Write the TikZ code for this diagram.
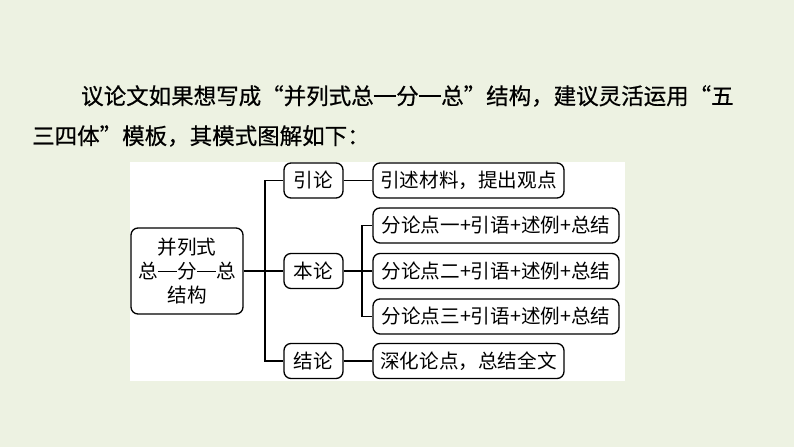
\documentclass[tikz,border=0pt]{standalone}
\usepackage{fontspec}
\newfontfamily\cjk{Noto Sans CJK SC}
\newfontfamily\cjkhead[FakeBold=0.6]{Noto Sans CJK SC}
\usetikzlibrary{positioning}
\definecolor{pagebg}{RGB}{237,242,226}
\newcommand\longdash{\rule[0.34em]{1em}{0.065em}}

\begin{document}
\begin{tikzpicture}[x=1pt, y=-1pt,
  box/.style={draw, line width=1.3pt, rounded corners=7pt, fill=white,
    inner sep=0pt, minimum height=35pt, font=\cjk\fontsize{19.6}{24}\selectfont},
  link/.style={line width=1.3pt},
  head/.style={anchor=west, inner sep=0pt, font=\cjkhead\fontsize{22.5}{24}\selectfont}]
  % page
  \fill[pagebg] (0,0) rectangle (794,447);
  \useasboundingbox (0,0) rectangle (794,447);
  % heading
  \node[head] (line1) at (81,96) {议论文如果想写成“并列式总\longdash 分\longdash 总”结构，建议灵活运用“五};
  \node[head] (line2) at (32,136) {三四体”模板，其模式图解如下：};
  % panel
  \fill[white] (130,162) rectangle (625,381);
  % left column
  \node[box, minimum width=112pt, minimum height=86pt, align=center] (main) at (187,271)
    {并列式\\总\longdash 分\longdash 总\\结构};
  \node[box, minimum width=59pt] (yin) at (313.5,180.5) {引论};
  \node[box, minimum width=59pt] (ben) at (313.5,271) {本论};
  \node[box, minimum width=59pt] (jie) at (313.5,361) {结论};
  % right column
  \node[box, minimum width=191pt] (yinr) at (468.5,180.5) {引述材料，提出观点};
  \node[box, minimum width=246pt] (fen1) at (496,225.5) {分论点一+引语+述例+总结};
  \node[box, minimum width=246pt] (fen2) at (496,271) {分论点二+引语+述例+总结};
  \node[box, minimum width=246pt] (fen3) at (496,316.5) {分论点三+引语+述例+总结};
  \node[box, minimum width=191pt] (jier) at (468.5,361) {深化论点，总结全文};
  % connectors
  \coordinate (trunk) at (265,271);
  \coordinate (sub) at (362,271);
  \draw[link] (main.east) -- (ben.west);
  \draw[link] (yin.west) -| (trunk) |- (jie.west);
  \draw[link] (yin.east) -- (yinr.west);
  \draw[link] (ben.east) -- (fen2.west);
  \draw[link] (fen1.west) -| (sub) |- (fen3.west);
  \draw[link] (jie.east) -- (jier.west);
\end{tikzpicture}
\end{document}
